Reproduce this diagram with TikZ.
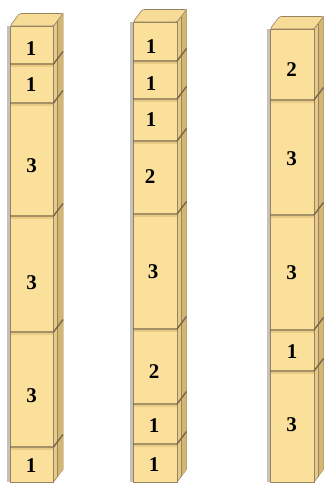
\documentclass[tikz,border=0pt]{standalone}
\usepackage{fontspec}
\setmainfont{Liberation Serif}
\definecolor{frontc}{RGB}{251,224,156}
\definecolor{sidec}{RGB}{232,202,134}
\definecolor{sidedk}{RGB}{212,182,116}
\definecolor{topc}{RGB}{247,220,152}
\definecolor{edgec}{RGB}{150,132,96}
\definecolor{seamc}{RGB}{120,104,72}
\definecolor{shadec}{RGB}{196,194,186}
\tikzset{
  frontface/.style={fill=frontc, draw=edgec, line width=0.6pt},
  sideface/.style={fill=sidec, draw=edgec, line width=0.6pt},
  topface/.style={fill=topc, draw=edgec, line width=0.6pt, rounded corners=1.5pt},
  seamline/.style={draw=seamc, line width=1.4pt},
  seamband/.style={draw=sidec, line width=2pt},
  num/.style={font=\bfseries\fontsize{21}{21}\selectfont, text=black, inner sep=0pt}
}
% #1 left x, #2 right x, #3 top y, #4 bottom y, #5 seams
\newcommand\drawcol[5]{%
  \fill[shadec] (#1-3,#3) rectangle (#1,#4);
  \filldraw[sideface] (#2,#3) -- ++(9.5,-12.5) -- (#2+9.5,#4-12.5) -- (#2,#4) -- cycle;
  \fill[sidedk] (#2+4,#3-5) -- (#2+9.5,#3-12.5) -- (#2+9.5,#4-12.5) -- (#2+4,#4-5) -- cycle;
  \draw[edgec, line width=0.4pt] (#2+4,#3-5) -- (#2+4,#4-5);
  \filldraw[topface] (#1,#3) -- ++(9.5,-12.5) -- (#2+9.5,#3-12.5) -- (#2,#3) -- cycle;
  \filldraw[frontface] (#1,#3) rectangle (#2,#4);
  \foreach \s in {#5} {
    \draw[seamband] (#1+0.5,\s+1.8) -- (#2-0.5,\s+1.8);
    \draw[seamline] (#1,\s) -- (#2,\s) -- ++(9.5,-12.5);
  }
}
\begin{document}
\begin{tikzpicture}[x=1pt,y=-1pt]
\useasboundingbox (0,0) rectangle (326,484);
\drawcol{10}{53.5}{26}{482}{64,103,216,332,447}
\drawcol{133}{177}{22}{482}{61,99,141,214,329,404,444}
\drawcol{270}{314}{29}{482}{100,215,330,371}
% column 1
\node[num] (a1) at (31,49) {1};
\node[num] (a2) at (31,84.5) {1};
\node[num] (a3) at (31.5,165.5) {3};
\node[num] (a4) at (31.5,283) {3};
\node[num] (a5) at (31.5,396) {3};
\node[num] (a6) at (31,466) {1};
% column 2
\node[num] (b1) at (151,47) {1};
\node[num] (b2) at (151,84) {1};
\node[num] (b3) at (151,120) {1};
\node[num] (b4) at (150,177) {2};
\node[num] (b5) at (153,272) {3};
\node[num] (b6) at (154,372) {2};
\node[num] (b7) at (154,426) {1};
\node[num] (b8) at (154,465) {1};
% column 3
\node[num] (c1) at (291.5,70) {2};
\node[num] (c2) at (291.5,159) {3};
\node[num] (c3) at (291.5,273) {3};
\node[num] (c4) at (292,352) {1};
\node[num] (c5) at (291.5,425) {3};
\end{tikzpicture}
\end{document}
